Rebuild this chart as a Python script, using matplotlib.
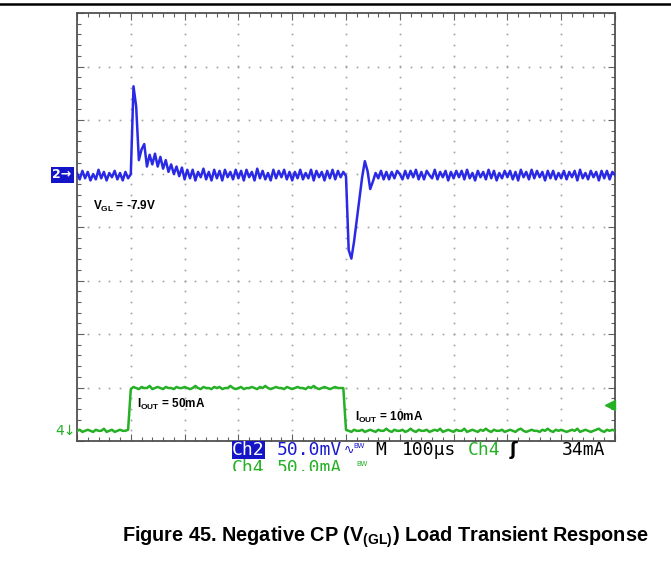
import numpy as np
import matplotlib
matplotlib.use('Agg')
import matplotlib.pyplot as plt
from matplotlib.patches import Rectangle

plt.rcParams['font.family'] = ['Liberation Sans', 'DejaVu Sans']
plt.rcParams['mathtext.fontset'] = 'custom'
plt.rcParams['mathtext.bf'] = 'Liberation Sans:bold'
plt.rcParams['mathtext.rm'] = 'Liberation Sans:bold'

# time base: 100 us/div, samples every 5 us
t_us = np.arange(0, 1001, 5)

# Ch2 (V_GL, AC), mV relative to the "2" marker, 50 mV/div
ch2_mv = [
    2, -4, 4, -3, 3, -5, 1, -4, 5, -3, 3, -5, 2, -2, 4, -4, 2, -5, 3, -3,
    1, 83, 64, 14, 24, 29, 8, 19, 10, 20, 8, 17, 6, 14, 3, 10, 1, 8, -1, 7,
    -4, 5, -3, 5, -5, 3, -2, 6, -4, 3, -5, 5, -3, 4, -5, 5, -2, 3, -4, 5,
    -3, 4, -5, 5, -2, 3, -5, 6, -3, 4, -4, 2, -5, 5, -3, 4, -2, 5, -4, 3,
    -5, 3, -3, 5, -4, 2, -3, 5, -5, 4, -2, 3, -5, 4, -3, 5, -4, 4, -2, 3,
    -1, -70, -78, -62, -42, -22, -2, 13, 4, -13, -6, 2, -3, 4, -4, 3, -4, 3, -3, 4,
    1, -4, 4, -3, 4, -2, 5, -4, 3, -4, 4, 0, -3, 5, -4, 3, -2, 4, -5, 3,
    -3, 4, -2, 4, -4, 5, -3, 2, -5, 4, -2, 3, -4, 5, -3, 4, -5, 2, -3, 4,
    -2, 4, -4, 3, -5, 5, -2, 3, -4, 5, -3, 4, -2, 3, -5, 4, -3, 4, -4, 2,
    -3, 4, -4, 3, -2, 4, -5, 5, -3, 2, -4, 4, -2, 3, -5, 4, -3, 4, -4, 3,
    0,
]

# Ch4 (I_OUT), mA, 50 mA/div
ch4_ma = [
    10, 11, 9, 10, 11, 10, 9, 11, 10, 10, 12, 9, 10, 11, 9, 10, 11, 10, 10, 11,
    49, 51, 50, 49, 51, 50, 50, 52, 49, 50, 51, 50, 49, 51, 50, 50, 49, 51, 50, 50,
    51, 50, 49, 50, 52, 50, 49, 51, 50, 50, 49, 51, 50, 51, 49, 50, 50, 52, 50, 49,
    50, 51, 49, 50, 50, 51, 50, 49, 51, 50, 52, 50, 49, 50, 51, 50, 50, 49, 51, 50,
    49, 50, 51, 50, 50, 49, 51, 50, 52, 50, 49, 50, 51, 50, 49, 50, 51, 50, 50, 50,
    11, 10, 9, 11, 10, 10, 11, 9, 10, 11, 10, 9, 11, 10, 10, 12, 10, 9, 11, 10,
    10, 11, 9, 10, 12, 10, 9, 11, 10, 10, 11, 9, 10, 11, 10, 12, 9, 10, 11, 10,
    9, 11, 10, 10, 12, 9, 10, 11, 10, 9, 11, 10, 12, 10, 9, 11, 10, 10, 11, 9,
    10, 11, 10, 9, 11, 12, 10, 9, 10, 11, 10, 10, 9, 11, 10, 12, 10, 9, 11, 10,
    11, 10, 9, 10, 11, 10, 12, 9, 10, 11, 10, 9, 10, 11, 12, 10, 9, 11, 10, 11,
    10,
]

ch2_pos = 4.97     # divisions from bottom
ch4_pos = -0.01
trig_ma = 34

blue = '#2a2ae6'
green = '#25b025'

fig = plt.figure(figsize=(6.71, 5.65), dpi=100)
ax = fig.add_axes([77 / 671, 1 - 441 / 565, 538 / 671, 428 / 565])
ax.set_xlim(0, 1000)
ax.set_ylim(0, 8)

# graticule dots
for xv in range(100, 1000, 100):
    ys = np.arange(0.2, 8, 0.2)
    ax.plot(np.full_like(ys, xv), ys, ls='none', marker='s', ms=1.2, mew=0, color='#a0a0a0', zorder=1)
for yv in range(1, 8):
    xs = np.arange(20, 1000, 20)
    ax.plot(xs, np.full_like(xs, yv, dtype=float), ls='none', marker='s', ms=1.2, mew=0, color='#a0a0a0', zorder=1)

ax.set_xticks(np.arange(0, 1001, 100))
ax.set_yticks(np.arange(0, 9, 1))
ax.set_xticks(np.arange(0, 1001, 20), minor=True)
ax.set_yticks(np.arange(0, 8.01, 0.2), minor=True)
ax.tick_params(which='both', direction='in', top=True, right=True,
               labelbottom=False, labelleft=False, color='#606060', width=0.8)
ax.tick_params(which='major', length=5)
ax.tick_params(which='minor', length=3)
for s in ax.spines.values():
    s.set_color('#505050')
    s.set_linewidth(1.3)

ch2_div = ch2_pos + np.array(ch2_mv) / 50.0
ch4_div = ch4_pos + np.array(ch4_ma) / 50.0
ax.plot(t_us, ch2_div, color=blue, lw=1.8, zorder=3)
ax.plot(t_us, ch4_div, color=green, lw=1.8, zorder=3)

# trigger level arrow
ax.plot([990], [ch4_pos + trig_ma / 50.0], marker='<', ms=7, color=green, clip_on=False, zorder=4)

# channel markers
fig.text(62 / 671, 1 - 175 / 565, '2\u2192', color='white', fontsize=9, fontweight='bold',
         ha='center', va='center', family='DejaVu Sans',
         bbox=dict(boxstyle='square,pad=0.15', fc='#1515c8', ec='none'))
fig.text(66 / 671, 1 - 431 / 565, '4\u2193', color=green, fontsize=10,
         ha='center', va='center', family='DejaVu Sans')

# annotations
fig.text(93 / 671, 1 - 206 / 565, r'$\mathbf{V_{GL}}$ = -7.9V', fontsize=8.5,
         fontweight='bold', va='center')
fig.text(137 / 671, 1 - 404 / 565, r'$\mathbf{I_{OUT}}$ = 50mA', fontsize=8.5,
         fontweight='bold', va='center')
fig.text(355 / 671, 1 - 417 / 565, r'$\mathbf{I_{OUT}}$ = 10mA', fontsize=8.5,
         fontweight='bold', va='center')

# scope readout
mono = 'DejaVu Sans Mono'
fs = 13
ry1 = 1 - 450 / 565
ry2 = 1 - 468 / 565
fig.text(232 / 671, ry1, 'Ch2', color='white', fontsize=fs, family=mono, va='center',
         bbox=dict(boxstyle='square,pad=0.02', fc='#1515c8', ec='none'))
fig.text(277 / 671, ry1, '50.0mV', color='#1a1ad0', fontsize=fs, family=mono, va='center')
fig.text(344 / 671, ry1, '\u223f', color='#1a1ad0', fontsize=9, family='DejaVu Sans', va='center')
fig.text(353 / 671, 1 - 446 / 565, 'BW', color='#1a1ad0', fontsize=5, family='DejaVu Sans', va='center')
fig.text(375 / 671, ry1, 'M', color='black', fontsize=fs, family=mono, va='center')
fig.text(402 / 671, ry1, '100\u00b5s', color='black', fontsize=fs, family=mono, va='center')
fig.text(468 / 671, ry1, 'Ch4', color=green, fontsize=fs, family=mono, va='center')
fig.text(510 / 671, ry1, '\u0283', color='black', fontsize=fs, fontweight='bold',
         family='DejaVu Sans', va='center')
fig.text(562 / 671, ry1, '34mA', color='black', fontsize=fs, family=mono, va='center')
fig.text(232 / 671, ry2, 'Ch4', color=green, fontsize=fs, family=mono, va='center')
fig.text(277 / 671, ry2, '50.0mA', color=green, fontsize=fs, family=mono, va='center')
fig.text(356 / 671, 1 - 464 / 565, 'BW', color=green, fontsize=5, family='DejaVu Sans', va='center')
# the screenshot is cut just below the second readout line
fig.patches.append(Rectangle((0.25, 1 - 495 / 565), 0.6, 24 / 565, transform=fig.transFigure,
                             fc='white', ec='none', zorder=10))

# top rule
fig.add_artist(plt.Line2D([0, 1], [1 - 4 / 565, 1 - 4 / 565], color='black', lw=1.8))

fig.text(385 / 671, 1 - 537 / 565, r'Figure 45. Negative CP (V$_{\mathbf{(GL)}}$) Load Transient Response',
         fontsize=14.3, fontweight='bold', ha='center', va='center')

fig.savefig('out.png', dpi=100)
